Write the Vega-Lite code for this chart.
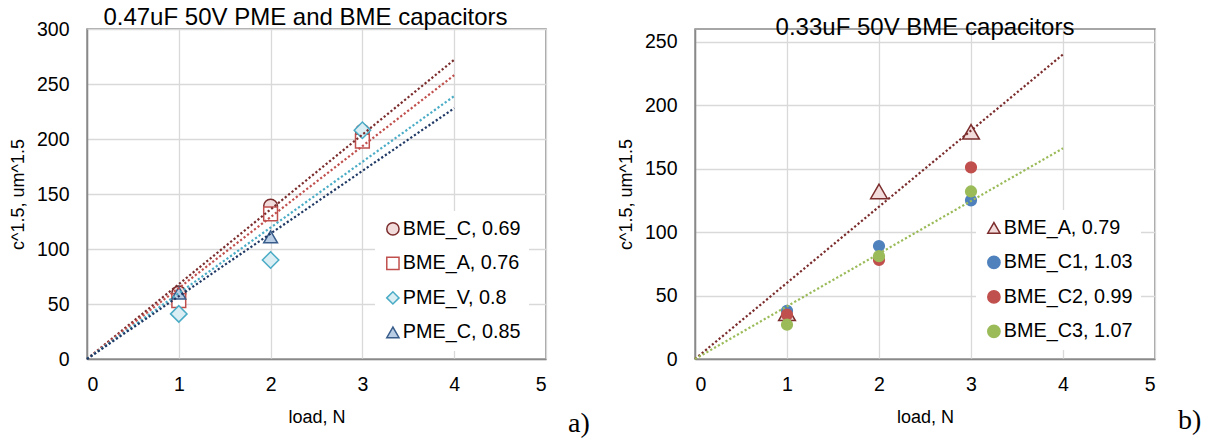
{
  "$schema": "https://vega.github.io/schema/vega-lite/v6.json",
  "padding": {"left": 8, "top": 5, "right": 0, "bottom": 0},
  "spacing": 25,
  "resolve": {
    "scale": {"shape": "independent", "stroke": "independent", "fill": "independent", "color": "independent", "x": "independent", "y": "independent"},
    "legend": {"shape": "independent", "stroke": "independent", "fill": "independent", "color": "independent"}
  },
  "config": {
    "font": "Liberation Sans",
    "view": {"stroke": "#898989", "strokeWidth": 1.5},
    "axis": {
      "labelFont": "Liberation Sans", "labelFontSize": 19.5, "labelColor": "#000000",
      "titleFont": "Liberation Sans", "titleFontSize": 18, "titleFontWeight": "normal", "titleColor": "#000000",
      "domainColor": "#898989", "domainWidth": 1.5,
      "gridColor": "#d9d9d9", "gridWidth": 1.3,
      "ticks": false, "tickSize": 0
    },
    "axisX": {"labelPadding": 16, "titlePadding": 15},
    "axisY": {"labelPadding": 18, "titlePadding": 9},
    "title": {"font": "Liberation Sans", "fontSize": 24, "fontWeight": "normal", "color": "#000000"},
    "legend": {
      "fillColor": "#ffffff", "padding": 8,
      "labelFont": "Liberation Sans", "labelFontSize": 19.8, "labelColor": "#000000",
      "rowPadding": 13.5, "symbolStrokeWidth": 1.5, "symbolSize": 150, "labelOffset": 0, "title": null
    }
  },
  "datasets": {
    "leftPoints": [
      {"series": "BME_C, 0.69", "load": 1, "c15": 60},
      {"series": "BME_C, 0.69", "load": 2, "c15": 139},
      {"series": "BME_C, 0.69", "load": 3, "c15": 207},
      {"series": "BME_A, 0.76", "load": 1, "c15": 53},
      {"series": "BME_A, 0.76", "load": 2, "c15": 132},
      {"series": "BME_A, 0.76", "load": 3, "c15": 198},
      {"series": "PME_V, 0.8", "load": 1, "c15": 41},
      {"series": "PME_V, 0.8", "load": 2, "c15": 90},
      {"series": "PME_V, 0.8", "load": 3, "c15": 208},
      {"series": "PME_C, 0.85", "load": 1, "c15": 60},
      {"series": "PME_C, 0.85", "load": 2, "c15": 111}
    ],
    "leftTrends": [
      {"fit": "BME_C", "load": 0, "c15": 0},
      {"fit": "BME_C", "load": 4, "c15": 272},
      {"fit": "BME_A", "load": 0, "c15": 0},
      {"fit": "BME_A", "load": 4, "c15": 258},
      {"fit": "PME_V", "load": 0, "c15": 0},
      {"fit": "PME_V", "load": 4, "c15": 239},
      {"fit": "PME_C", "load": 0, "c15": 0},
      {"fit": "PME_C", "load": 4, "c15": 228}
    ],
    "rightPoints": [
      {"series": "BME_A, 0.79", "load": 1, "c15": 36},
      {"series": "BME_A, 0.79", "load": 2, "c15": 132},
      {"series": "BME_A, 0.79", "load": 3, "c15": 179},
      {"series": "BME_C1, 1.03", "load": 1, "c15": 38},
      {"series": "BME_C1, 1.03", "load": 2, "c15": 89},
      {"series": "BME_C1, 1.03", "load": 3, "c15": 125},
      {"series": "BME_C2, 0.99", "load": 1, "c15": 35},
      {"series": "BME_C2, 0.99", "load": 2, "c15": 78},
      {"series": "BME_C2, 0.99", "load": 3, "c15": 151},
      {"series": "BME_C3, 1.07", "load": 1, "c15": 27},
      {"series": "BME_C3, 1.07", "load": 2, "c15": 81},
      {"series": "BME_C3, 1.07", "load": 3, "c15": 132}
    ],
    "rightTrends": [
      {"fit": "BME_A", "load": 0, "c15": 0},
      {"fit": "BME_A", "load": 4, "c15": 240},
      {"fit": "BME_C3", "load": 0, "c15": 0},
      {"fit": "BME_C3", "load": 4, "c15": 166}
    ],
    "leftTag": [{"tag": "a)"}],
    "rightTag": [{"tag": "b)"}]
  },
  "hconcat": [
    {
      "width": 459, "height": 330,
      "title": {"text": "0.47uF 50V PME and BME capacitors", "offset": -11, "dx": -11},
      "layer": [
        {
          "data": {"name": "leftPoints"},
          "mark": {"type": "point", "filled": true, "strokeWidth": 1.5, "opacity": 1},
          "encoding": {
            "x": {"field": "load", "type": "quantitative", "title": "load, N", "scale": {"domain": [0, 5]}, "axis": {"values": [0, 1, 2, 3, 4, 5], "format": "d"}},
            "y": {"field": "c15", "type": "quantitative", "title": "c^1.5, um^1.5", "scale": {"domain": [0, 300]}, "axis": {"values": [0, 50, 100, 150, 200, 250, 300]}},
            "shape": {"field": "series", "type": "nominal", "sort": null, "legend": {"orient": "none", "legendX": 288, "legendY": 182}, "scale": {"domain": ["BME_C, 0.69", "BME_A, 0.76", "PME_V, 0.8", "PME_C, 0.85"], "range": ["circle", "square", "diamond", "triangle-up"]}},
            "stroke": {"field": "series", "type": "nominal", "sort": null, "legend": {"orient": "none", "legendX": 288, "legendY": 182}, "scale": {"domain": ["BME_C, 0.69", "BME_A, 0.76", "PME_V, 0.8", "PME_C, 0.85"], "range": ["#7b2c2c", "#c0504d", "#4bacc6", "#385d8a"]}},
            "fill": {"field": "series", "type": "nominal", "sort": null, "legend": {"orient": "none", "legendX": 288, "legendY": 182}, "scale": {"domain": ["BME_C, 0.69", "BME_A, 0.76", "PME_V, 0.8", "PME_C, 0.85"], "range": ["#f2dcdb", "#ffffff", "#dbeef4", "#b9cde5"]}},
            "size": {"condition": {"test": "datum.series === 'PME_V, 0.8'", "value": 270}, "value": 190}
          }
        },
        {
          "data": {"name": "leftTrends"},
          "mark": {"type": "line", "strokeWidth": 2.2, "strokeDash": [2.2, 2.2]},
          "encoding": {
            "x": {"field": "load", "type": "quantitative"},
            "y": {"field": "c15", "type": "quantitative"},
            "detail": {"field": "fit"},
            "color": {"field": "fit", "type": "nominal", "legend": null, "scale": {"domain": ["BME_C", "BME_A", "PME_V", "PME_C"], "range": ["#7b2c2c", "#c0504d", "#4bacc6", "#1f3864"]}}
          }
        },
        {
          "data": {"name": "leftTag"},
          "mark": {"type": "text", "font": "Liberation Serif", "fontSize": 28, "align": "left", "baseline": "alphabetic", "clip": false, "color": "#000000"},
          "encoding": {
            "x": {"datum": 5.24},
            "y": {"datum": -66},
            "text": {"field": "tag"}
          }
        }
      ]
    },
    {
      "width": 460, "height": 330,
      "title": {"text": "0.33uF 50V BME capacitors", "offset": -11},
      "layer": [
        {
          "data": {"name": "rightPoints"},
          "mark": {"type": "point", "filled": true, "strokeWidth": 1.5, "opacity": 1},
          "encoding": {
            "x": {"field": "load", "type": "quantitative", "title": "load, N", "scale": {"domain": [0, 5]}, "axis": {"values": [0, 1, 2, 3, 4, 5], "format": "d"}},
            "y": {"field": "c15", "type": "quantitative", "title": "c^1.5, um^1.5", "scale": {"domain": [0, 250]}, "axis": {"values": [0, 50, 100, 150, 200, 250]}},
            "shape": {"field": "series", "type": "nominal", "sort": null, "legend": {"orient": "none", "legendX": 281, "legendY": 181}, "scale": {"domain": ["BME_A, 0.79", "BME_C1, 1.03", "BME_C2, 0.99", "BME_C3, 1.07"], "range": ["triangle-up", "circle", "circle", "circle"]}},
            "stroke": {"field": "series", "type": "nominal", "sort": null, "legend": {"orient": "none", "legendX": 281, "legendY": 181}, "scale": {"domain": ["BME_A, 0.79", "BME_C1, 1.03", "BME_C2, 0.99", "BME_C3, 1.07"], "range": ["#7b2c2c", "#4f81bd", "#c0504d", "#9bbb59"]}},
            "fill": {"field": "series", "type": "nominal", "sort": null, "legend": {"orient": "none", "legendX": 281, "legendY": 181}, "scale": {"domain": ["BME_A, 0.79", "BME_C1, 1.03", "BME_C2, 0.99", "BME_C3, 1.07"], "range": ["#f2dcdb", "#4f81bd", "#c0504d", "#9bbb59"]}},
            "size": {"condition": {"test": "datum.series === 'BME_A, 0.79'", "value": 280}, "value": 115}
          }
        },
        {
          "data": {"name": "rightTrends"},
          "mark": {"type": "line", "strokeWidth": 2.2, "strokeDash": [2.2, 2.2]},
          "encoding": {
            "x": {"field": "load", "type": "quantitative"},
            "y": {"field": "c15", "type": "quantitative"},
            "detail": {"field": "fit"},
            "color": {"field": "fit", "type": "nominal", "legend": null, "scale": {"domain": ["BME_A", "BME_C3"], "range": ["#7b2c2c", "#9bbb59"]}}
          }
        },
        {
          "data": {"name": "rightTag"},
          "mark": {"type": "text", "font": "Liberation Serif", "fontSize": 28, "align": "left", "baseline": "alphabetic", "clip": false, "color": "#000000"},
          "encoding": {
            "x": {"datum": 5.25},
            "y": {"datum": -55},
            "text": {"field": "tag"}
          }
        }
      ]
    }
  ]
}
